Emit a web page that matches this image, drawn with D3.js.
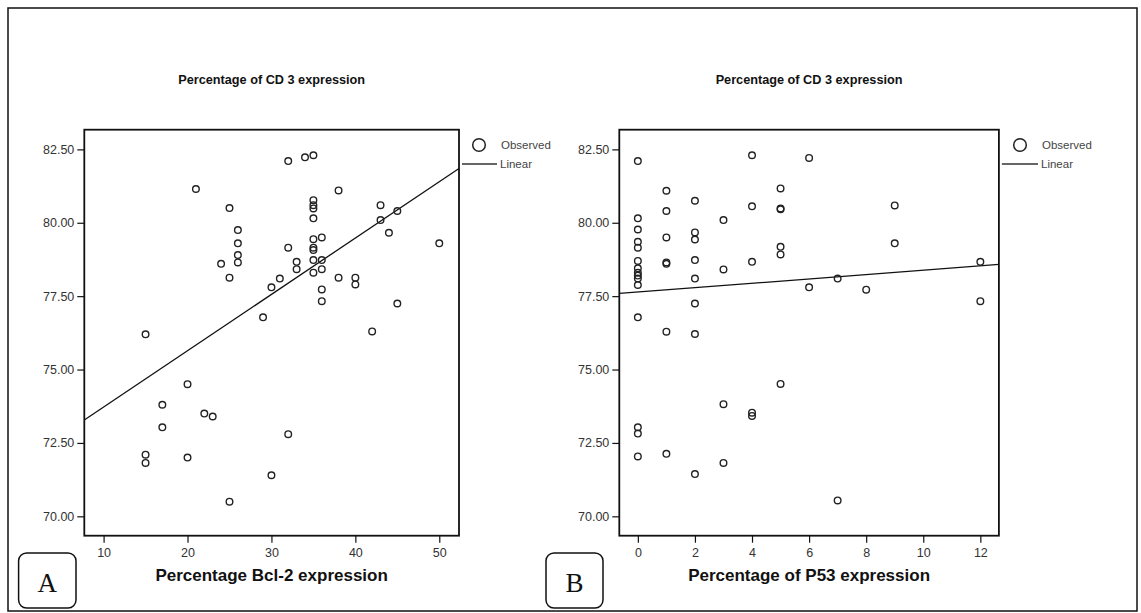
<!DOCTYPE html>
<html>
<head>
<meta charset="utf-8">
<script src="https://cdn.jsdelivr.net/npm/d3@7"></script>
<style>
  body { margin: 0; background: #fff; }
  svg { display: block; font-family: "Liberation Sans", Arial, sans-serif; }
  .tick text { fill: #333; font-size: 12.5px; }
  .tick line { stroke: #111; stroke-width: 1.2; }
</style>
</head>
<body>
<div id="chart"></div>
<script>
// values
var yTicks = [70, 72.5, 75, 77.5, 80, 82.5];
var bclTicks = [10, 20, 30, 40, 50];
var p53Ticks = [0, 2, 4, 6, 8, 10, 12];

var bclX = [15, 15, 15, 17, 17, 20, 20, 21, 22, 23, 24, 25, 25, 25, 26, 26, 26, 26, 29, 30, 30, 31, 32, 32, 32, 33, 33,
  34, 35, 35, 35, 35, 35, 35, 35, 35, 35, 35, 36, 36, 36, 36, 36, 38, 38, 40, 40, 42, 43, 43, 44, 45, 45, 50];
var bclY = [76.2, 72.1, 71.82, 73.8, 73.03, 74.5, 72.0, 81.15, 73.5, 73.4, 78.6, 80.5, 78.13, 70.5, 79.75, 79.3, 78.9, 78.65,
  76.78, 77.8, 71.4, 78.1, 82.1, 79.15, 72.8, 78.67, 78.42, 82.23, 82.3, 80.77, 80.6, 80.49, 80.15, 79.44, 79.15, 79.07,
  78.73, 78.3, 79.5, 78.73, 78.42, 77.73, 77.33, 81.1, 78.13, 78.13, 77.9, 76.3, 80.6, 80.09, 79.66, 80.4, 77.25, 79.3];

var p53X = [0, 0, 0, 0, 0, 0, 0, 0, 0, 0, 0, 0, 0, 0, 0,
  1, 1, 1, 1, 1, 1, 1,
  2, 2, 2, 2, 2, 2, 2, 2,
  3, 3, 3, 3,
  4, 4, 4, 4, 4,
  5, 5, 5, 5, 5, 5,
  6, 6, 7, 7, 8, 9, 9, 12, 12];
var p53Y = [82.1, 80.15, 79.77, 79.35, 79.15, 78.7, 78.45, 78.3, 78.2, 78.1, 77.88, 76.78, 73.03, 72.82, 72.04,
  81.09, 80.4, 79.5, 78.65, 78.6, 76.29, 72.13,
  80.75, 79.67, 79.43, 78.73, 78.1, 77.25, 76.21, 71.44,
  80.09, 78.41, 73.82, 71.82,
  82.3, 80.56, 78.67, 73.53, 73.42,
  81.17, 80.49, 80.46, 79.18, 78.92, 74.51,
  82.21, 77.8, 78.1, 70.54, 77.72, 80.59, 79.3, 78.67, 77.33];

// linear fit lines (intercept, slope)
var bclFit = [71.80, 0.192];
var p53Fit = [77.64, 0.0745];

var W = 1141, H = 613;
var svg = d3.select("#chart").append("svg")
  .attr("width", W)
  .attr("height", H);

// outer frame
svg.append("rect")
  .attr("x", 8).attr("y", 8)
  .attr("width", 1129).attr("height", 603)
  .attr("fill", "none")
  .attr("stroke", "#111")
  .attr("stroke-width", 1.5);

var y = d3.scaleLinear().domain([69.34, 83.17]).range([535.7, 129.7]);

function drawPanel(opt){
  var x = d3.scaleLinear().domain(opt.xDomain).range(opt.xRange);
  var g = svg.append("g");
  var x0 = opt.xRange[0], x1 = opt.xRange[1];

  g.append("text")
    .attr("x", (x0 + x1) / 2)
    .attr("y", 84)
    .attr("text-anchor", "middle")
    .attr("font-weight", "bold")
    .attr("font-size", "12.7px")
    .attr("fill", "#111")
    .text("Percentage of CD 3 expression");

  g.append("g")
    .attr("transform", "translate(" + x0 + ",0)")
    .call(d3.axisLeft(y).tickValues(yTicks).tickFormat(d3.format(".2f")).tickSize(7).tickPadding(3))
    .call(s => s.select(".domain").remove());

  g.append("g")
    .attr("transform", "translate(0," + y.range()[0] + ")")
    .call(d3.axisBottom(x).tickValues(opt.ticks).tickSize(7).tickPadding(5))
    .call(s => s.select(".domain").remove());

  // fit line, clipped to frame
  var xd = opt.xDomain;
  g.append("line")
    .attr("x1", x(xd[0])).attr("y1", y(opt.fit[0] + opt.fit[1] * xd[0]))
    .attr("x2", x(xd[1])).attr("y2", y(opt.fit[0] + opt.fit[1] * xd[1]))
    .attr("stroke", "#111")
    .attr("stroke-width", 1.3);

  g.append("g").selectAll("circle")
    .data(opt.xs.map((v, i) => [v, opt.ys[i]]))
    .enter()
    .append("circle")
      .attr("cx", d => x(d[0]))
      .attr("cy", d => y(d[1]))
      .attr("r", 3.3)
      .attr("fill", "none")
      .attr("stroke", "#222")
      .attr("stroke-width", 1.4);

  g.append("rect")
    .attr("x", x0).attr("y", y.range()[1])
    .attr("width", x1 - x0).attr("height", y.range()[0] - y.range()[1])
    .attr("fill", "none")
    .attr("stroke", "#111")
    .attr("stroke-width", 1.8);

  g.append("text")
    .attr("x", (x0 + x1) / 2)
    .attr("y", 581)
    .attr("text-anchor", "middle")
    .attr("font-weight", "bold")
    .attr("font-size", "17px")
    .attr("fill", "#111")
    .text(opt.xTitle);

  // legend
  var lx = opt.legendX;
  g.append("circle")
    .attr("cx", lx + 16).attr("cy", 145)
    .attr("r", 6.3)
    .attr("fill", "none")
    .attr("stroke", "#222")
    .attr("stroke-width", 1.5);
  g.append("text")
    .attr("x", lx + 38).attr("y", 149)
    .attr("font-size", "11.5px").attr("fill", "#444")
    .text("Observed");
  g.append("line")
    .attr("x1", x1 + 3).attr("x2", lx + 34)
    .attr("y1", 164).attr("y2", 164)
    .attr("stroke", "#333").attr("stroke-width", 1.3);
  g.append("text")
    .attr("x", lx + 37).attr("y", 168)
    .attr("font-size", "11.5px").attr("fill", "#444")
    .text("Linear");

  // panel letter box
  var b = opt.box;
  g.append("rect")
    .attr("x", b[0]).attr("y", 553)
    .attr("width", b[1] - b[0]).attr("height", 55)
    .attr("rx", 8)
    .attr("fill", "none")
    .attr("stroke", "#111")
    .attr("stroke-width", 1.5);
  g.append("text")
    .attr("x", (b[0] + b[1]) / 2).attr("y", 592)
    .attr("text-anchor", "middle")
    .attr("font-family", "'Liberation Serif', 'Times New Roman', serif")
    .attr("font-size", "27px")
    .attr("fill", "#111")
    .text(opt.letter);
}

drawPanel({
  xDomain: [7.7, 52.35], xRange: [84.3, 459], ticks: bclTicks,
  xs: bclX, ys: bclY, fit: bclFit,
  xTitle: "Percentage Bcl-2 expression",
  legendX: 463, box: [18.6, 76], letter: "A"
});

drawPanel({
  xDomain: [-0.65, 12.65], xRange: [619.3, 998.9], ticks: p53Ticks,
  xs: p53X, ys: p53Y, fit: p53Fit,
  xTitle: "Percentage of P53 expression",
  legendX: 1004, box: [546, 603], letter: "B"
});
</script>
</body>
</html>
